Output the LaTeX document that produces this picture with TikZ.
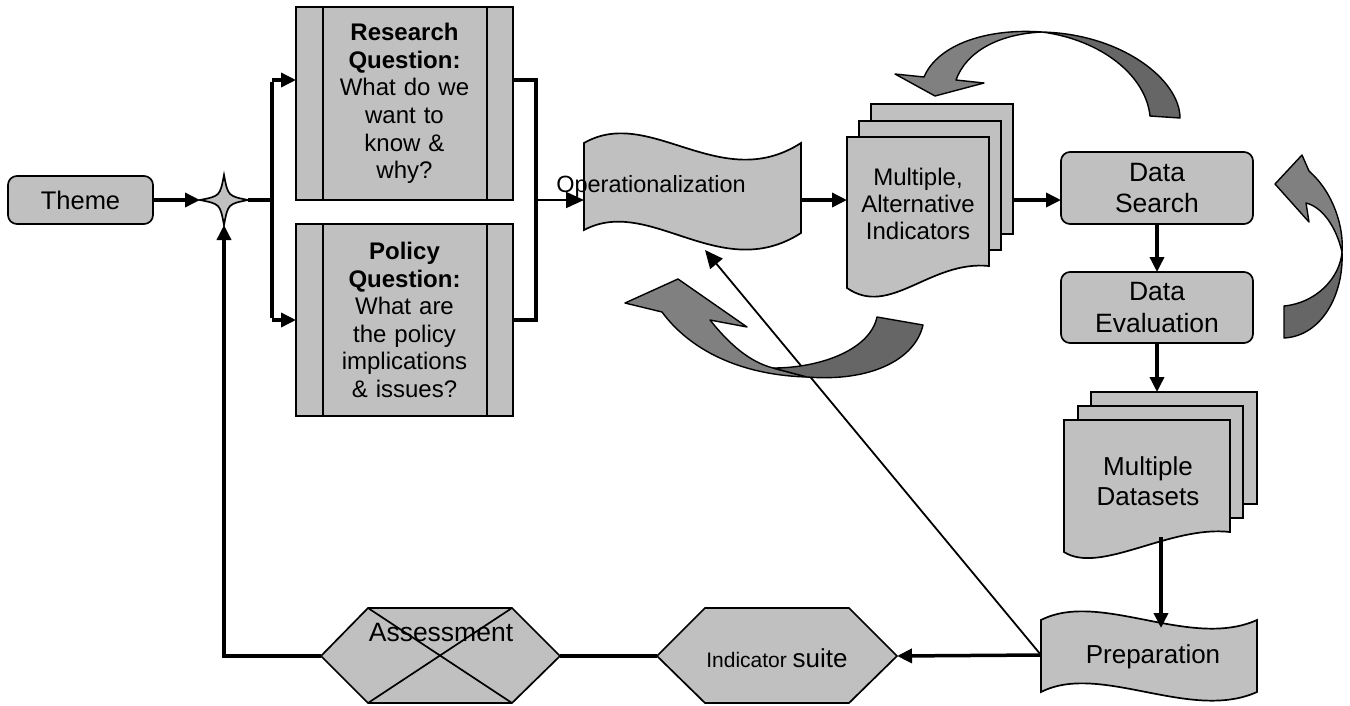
\documentclass[tikz,border=0pt]{standalone}
\usepackage{fontspec}
\setmainfont{Liberation Sans}
\usetikzlibrary{arrows.meta}
\definecolor{boxgray}{HTML}{C0C0C0}
\definecolor{arrlight}{HTML}{808080}
\definecolor{arrdark}{HTML}{666666}
\begin{document}
\begin{tikzpicture}[x=1pt,y=-1pt,
  every node/.style={inner sep=0pt, outer sep=0pt},
  outl/.style={draw=black, line width=1.7pt},
  shp/.style={outl, fill=boxgray},
  rbox/.style={shp, rounded corners=9pt, align=center},
  conn/.style={draw=black, line width=3.5pt},
  arr/.style={conn, -{Triangle[length=15pt,width=14pt]}},
  thinarr/.style={draw=black, line width=1.8pt, -{Triangle[length=18pt,width=16pt]}},
  carrL/.style={draw=black, line width=1.4pt, fill=arrlight, line join=round},
  carrD/.style={carrL, fill=arrdark},
  txt/.style={align=center},
]
\useasboundingbox (0,0) rectangle (1350,705);

% ---------- Theme ----------
\node[rbox, minimum width=145, minimum height=48, font=\fontsize{25.5}{29}\selectfont] (theme) at (80.5,200) {Theme};

% ---------- star junction ----------
\coordinate (stL) at (200,200);
\coordinate (stR) at (248,200);
\coordinate (stT) at (224,175);
\coordinate (stB) at (224,225);
\path[shp] (stL) .. controls (220,196) .. (stT) .. controls (228,196) .. (stR)
  .. controls (228,204) .. (stB) .. controls (220,204) .. (stL) -- cycle;

% ---------- question boxes ----------
\node[shp, minimum width=217, minimum height=193, text width=160, align=center,
  font=\fontsize{24}{27.6}\selectfont] (rq) at (404.5,103.5)
  {\textbf{Research}\\\textbf{Question:}\\What do we\\want to\\know \&\\why?};
\node[shp, minimum width=217, minimum height=192, text width=160, align=center,
  font=\fontsize{24}{27.6}\selectfont] (pq) at (404.5,320)
  {\textbf{Policy}\\\textbf{Question:}\\What are\\the policy\\implications\\\& issues?};
\foreach \b in {rq,pq}{
  \draw[outl] ([xshift=27]\b.north west) -- ([xshift=27]\b.south west);
  \draw[outl] ([xshift=-26]\b.north east) -- ([xshift=-26]\b.south east);
}

% ---------- buses ----------
\coordinate (busL) at (272,200);
\coordinate (busLt) at (272,80);
\coordinate (busLb) at (272,320);
\coordinate (busRt) at (536,80);
\coordinate (busRb) at (536,320);
\coordinate (busRm) at (536,200);

\draw[arr] (theme.east) -- (stL);
\draw[conn] (stR) -- (busL);
\draw[conn] ([yshift=-1.75]busLt) -- ([yshift=1.75]busLb);
\draw[arr] (busLt) -- (rq.west |- busLt);
\draw[arr] (busLb) -- (pq.west |- busLb);
\draw[conn, line join=miter] (rq.east |- busRt) -- (busRt) -- (busRb) -- (pq.east |- busRb);

% ---------- Operationalization (tape) ----------
\path[shp] (584,143) .. controls (650,105) and (720,195) .. (801,143)
  -- (801,233) .. controls (720,285) and (650,195) .. (584,230) -- cycle;
\coordinate (opL) at (584,200);
\coordinate (opR) at (801,200);
\coordinate (opB) at (705,250);
\node[font=\fontsize{23.5}{27}\selectfont] (op) at (651,186) {Operationalization};
\draw[thinarr] (busRm) -- (opL);

% ---------- Multiple, Alternative Indicators ----------
\path[shp] (871,104) rectangle (1013,234);
\path[shp] (859,121) rectangle (1001,250);
\path[shp] (847,137) -- (989,137) -- (989,266)
  .. controls (930,260) and (890,318) .. (847,288) -- cycle;
\coordinate (miL) at (847,200);
\coordinate (miR) at (1013,200);
\node[txt, font=\fontsize{24}{27}\selectfont] (mi) at (918,204) {Multiple,\\Alternative\\Indicators};
\draw[arr] (opR) -- (miL);

% ---------- Data search / evaluation ----------
\node[rbox, minimum width=192, minimum height=72, font=\fontsize{26.5}{31.5}\selectfont] (ds) at (1157,188) {Data\\Search};
\node[rbox, minimum width=192, minimum height=71, font=\fontsize{26.5}{31.5}\selectfont] (de) at (1157,307.5) {Data\\Evaluation};
\draw[arr] (miR) -- (ds.west |- miR);
\draw[arr] (ds.south) -- (de.north);

% ---------- Multiple Datasets ----------
\path[shp] (1091,392) rectangle (1257,504);
\path[shp] (1078,406) rectangle (1243,518);
\path[shp] (1064,420) -- (1230,420) -- (1230,532)
  .. controls (1170,525) and (1100,575) .. (1064,552) -- cycle;
\coordinate (mdT) at (1157,392);
\coordinate (mdS) at (1161,537);
\node[txt, font=\fontsize{26}{30}\selectfont] (md) at (1148,481) {Multiple\\Datasets};
\draw[arr] (de.south) -- (mdT);

% ---------- Preparation (tape) ----------
\path[shp] (1041,620) .. controls (1100,590) and (1190,650) .. (1257,620)
  -- (1257,692) .. controls (1190,722) and (1100,662) .. (1041,692) -- cycle;
\coordinate (prT) at (1161,628);
\coordinate (prL) at (1041,655);
\node[font=\fontsize{26}{30}\selectfont] (prep) at (1153,657) {Preparation};
\draw[arr] (mdS) -- (prT);

% ---------- Indicator suite ----------
\path[shp] (657,656) -- (705,608) -- (849,608) -- (897,656) -- (849,703) -- (705,703) -- cycle;
\coordinate (isL) at (657,656);
\coordinate (isR) at (897,656);
\node (is) at (777,658) {\fontsize{21}{25}\selectfont Indicator \fontsize{26}{30}\selectfont suite};
\draw[arr] (prL) -- (isR);
\draw[thinarr] (prL) -- (opB);

% ---------- Assessment ----------
\path[shp] (321,656) -- (368,608) -- (512,608) -- (560,656) -- (512,703) -- (368,703) -- cycle;
\draw[outl] (368,608) -- (512,703);
\draw[outl] (512,608) -- (368,703);
\coordinate (asL) at (321,656);
\coordinate (asR) at (560,656);
\coordinate (retC) at (224,656);
\node[font=\fontsize{26.5}{30}\selectfont] (as) at (441,633) {Assessment};
\draw[conn] (isL) -- (asR);
\draw[arr, line join=miter] (asL) -- (retC) -- (stB);

% ---------- curved block arrows ----------
% top (Data search -> indicators)
\path[carrL] (895,74) -- (935,96) -- (984,83) -- (956,80)
  .. controls (966,52) and (998,34) .. (1042,32)
  .. controls (988,28) and (938,44) .. (924,77) -- cycle;
\path[carrD] (1042,32) .. controls (1122,34) and (1180,80) .. (1180,118)
  -- (1150,116) .. controls (1146,76) and (1102,40) .. (1042,32) -- cycle;
% right (evaluation -> search)
\path[carrL] (1275,184) -- (1302,155) -- (1309,171)
  .. controls (1334,193) and (1344,228) .. (1342,252)
  .. controls (1336,226) and (1322,207) .. (1306,203) -- (1309,222) -- cycle;
\path[carrD] (1342,252) .. controls (1344,294) and (1322,336) .. (1284,338)
  -- (1284,306) .. controls (1316,303) and (1340,278) .. (1342,252) -- cycle;
% bottom (indicators -> operationalization)
\path[carrL] (678,279) -- (747,327) -- (710,320)
  .. controls (730,345) and (750,362) .. (773,368) -- (807,377)
  .. controls (740,375) and (690,350) .. (662,312) -- (625,303) -- cycle;
\path[carrD] (773,368) .. controls (820,368) and (870,350) .. (877,317)
  -- (923,325) .. controls (915,360) and (870,382) .. (807,377) -- cycle;

\end{tikzpicture}
\end{document}
